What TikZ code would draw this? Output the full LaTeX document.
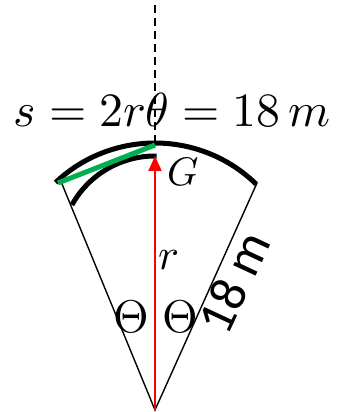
\documentclass[tikz,border=0pt]{standalone}
\usepackage{amsmath, amssymb}
\usepackage{unicode-math}
\setmathfont{Latin Modern Math}
\usepackage{tikz}
\usetikzlibrary{arrows.meta}
\newfontfamily\lenfont{Carlito}
\definecolor{chordgreen}{RGB}{0,176,80}

\begin{document}
\begin{tikzpicture}[x=1bp,y=1bp,
  thinline/.style={line width=1.4bp},
  barline/.style={line width=5bp}]
\useasboundingbox (-155,-2) rectangle (185,410);
\coordinate (O) at (0,0);
\coordinate (L) at (-93,226);
\coordinate (R) at (102,227);
\coordinate (T) at (0,267);
\coordinate (Top) at (0,410);
\coordinate (H) at (0,254);
\draw[thinline] (L) -- (O) -- (R);
\draw[thinline,dash pattern=on 8bp off 5bp] (T) -- (Top);
\draw[barline] (0,122)+(133.3:145) arc[start angle=133.3,end angle=45.8,radius=145];
\draw[barline] (0,159)+(151:95) arc[start angle=151,end angle=89,radius=95];
\draw[barline,chordgreen] (-97,227) -- (0,265);
\draw[red,line width=2bp,-{Triangle[width=13bp,length=15bp]}] (O) -- (H);
\node (eq) at (17,300) {\fontsize{48}{56}\selectfont $s=2r\theta=18\,m$};
\node (g) at (28,238) {\fontsize{40}{48}\selectfont $G$};
\node (r) at (14,150) {\fontsize{44}{52}\selectfont $r$};
\node[inner sep=1bp] (th1) at (-24,93) {\fontsize{46}{54}\selectfont $\Theta$};
\node[inner sep=1bp] (th2) at (25,93) {\fontsize{46}{54}\selectfont $\Theta$};
\node[rotate=65,inner sep=1bp] (len) at (79,128) {\fontsize{52}{60}\selectfont\lenfont 18 m};
\end{tikzpicture}
\end{document}
